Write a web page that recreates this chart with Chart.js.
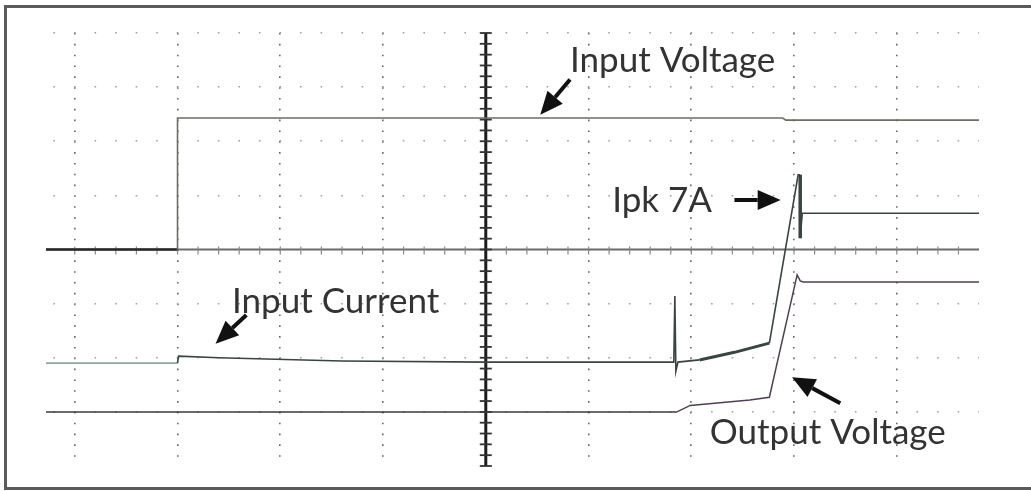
<!DOCTYPE html>
<html>
<head>
<meta charset="utf-8">
<script src="https://cdn.jsdelivr.net/npm/chart.js@4.4.1/dist/chart.umd.min.js"></script>
<style>
  html, body { margin: 0; padding: 0; background: #fff; overflow: hidden; }
  #frame { position: absolute; left: 4px; top: 5px; width: 1060px; height: 479px; border: 3px solid #5b5b5b; }
  #myChart { position: absolute; left: 0; top: 0; }
</style>
</head>
<body>
<div id="frame"></div>
<canvas id="myChart" width="1031" height="491"></canvas>
<script>
// everything is in scope divisions, 0,0 is the centre of the graticule
const xMin = -4.28, xMax = 4.8;
const yMin = -4, yMax = 4;
const xGrid = [-4, -3, -2, -1, 0, 1, 2, 3, 4];
const yGrid = [-3, -2, -1, 0, 1, 2, 3, 4];

const inVoltX = [-4.28, -3.0, -3.0, 2.89, 2.92, 4.8];
const inVoltY = [0, 0, 2.43, 2.43, 2.39, 2.39];

const inCurrX = [-4.28, -3.0, -2.99, -2.6, -1.4, 0, 1.83, 1.84, 1.85, 1.87, 2.08, 2.42, 2.76, 3.04, 3.06, 3.06, 3.08, 4.8];
const inCurrY = [-2.1, -2.1, -1.97, -2.0, -2.06, -2.08, -2.08, -0.86, -2.25, -2.08, -2.04, -1.9, -1.73, 1.38, 1.38, 0.21, 0.67, 0.67];

const outVoltX = [-4.28, 1.86, 1.99, 2.57, 2.76, 3.03, 3.06, 3.09, 4.8];
const outVoltY = [-3.0, -3.0, -2.88, -2.78, -2.73, -0.47, -0.58, -0.6, -0.6];

const noteText = ['Input Voltage', 'Ipk 7A', 'Input Current', 'Output Voltage'];
// where each label sits and where its arrow goes (divisions)
const noteLayout = [
  { at: [0.82, 3.28], tail: [0.82, 3.14], tip: [0.53, 2.49] },
  { at: [1.23, 0.69], tail: [2.42, 0.915], tip: [2.87, 0.915] },
  { at: [-2.47, -1.17], tail: [-2.33, -1.21], tip: [-2.63, -1.74] },
  { at: [2.18, -3.6], tail: [3.45, -2.84], tip: [2.98, -2.36] }
];

function pts(xs, ys) {
  return xs.map((x, i) => ({ x: x, y: ys[i] }));
}

const DOT = 1.6;

// thick centre axes with the small division marks
const centreAxes = {
  id: 'centreAxes',
  beforeDatasetsDraw(chart) {
    const c = chart.ctx, xs = chart.scales.x, ys = chart.scales.y, a = chart.chartArea;
    const x0 = xs.getPixelForValue(0), y0 = ys.getPixelForValue(0);
    c.save();
    // horizontal
    c.strokeStyle = '#6a6a6a';
    c.lineWidth = 2.2;
    c.beginPath(); c.moveTo(a.left, y0); c.lineTo(a.right, y0); c.stroke();
    c.lineWidth = 1.2;
    c.strokeStyle = '#8a8a8a';
    for (let v = -4; v <= xMax; v += 0.2) {
      const px = xs.getPixelForValue(v);
      if (px < a.left) continue;
      c.beginPath(); c.moveTo(px, y0 - 3); c.lineTo(px, y0 + 5); c.stroke();
    }
    // vertical
    c.strokeStyle = '#1c1c1c';
    c.lineWidth = 3;
    c.beginPath(); c.moveTo(x0, a.top); c.lineTo(x0, a.bottom); c.stroke();
    c.lineWidth = 1.8;
    c.strokeStyle = '#333';
    for (let v = yMin; v <= yMax + 0.001; v += 0.2) {
      const py = ys.getPixelForValue(v);
      c.beginPath(); c.moveTo(x0 - 6, py); c.lineTo(x0 + 6, py); c.stroke();
    }
    c.restore();
  }
};

function arrow(c, x1, y1, x2, y2) {
  const ang = Math.atan2(y2 - y1, x2 - x1);
  const hl = 23, hw = 10;
  const bx = x2 - hl * Math.cos(ang), by = y2 - hl * Math.sin(ang);
  c.lineWidth = 4;
  c.beginPath(); c.moveTo(x1, y1); c.lineTo(bx, by); c.stroke();
  c.beginPath();
  c.moveTo(x2, y2);
  c.lineTo(bx + hw * Math.sin(ang), by - hw * Math.cos(ang));
  c.lineTo(bx - hw * Math.sin(ang), by + hw * Math.cos(ang));
  c.closePath();
  c.fill();
}

const notes = {
  id: 'notes',
  afterDatasetsDraw(chart) {
    const c = chart.ctx, xs = chart.scales.x, ys = chart.scales.y;
    c.save();
    c.font = '35px Lato';
    c.textBaseline = 'alphabetic';
    noteText.forEach((t, i) => {
      const L = noteLayout[i];
      c.fillStyle = '#333';
      c.fillText(t, xs.getPixelForValue(L.at[0]), ys.getPixelForValue(L.at[1]));
      c.fillStyle = '#111';
      c.strokeStyle = '#111';
      arrow(c, xs.getPixelForValue(L.tail[0]), ys.getPixelForValue(L.tail[1]),
        xs.getPixelForValue(L.tip[0]), ys.getPixelForValue(L.tip[1]));
    });
    c.restore();
  }
};

function initialize() {
  const ctx = document.getElementById('myChart').getContext('2d');
  const myChart = new Chart(ctx, {
    type: 'line',
    data: {
      datasets: [{
        label: 'Input Voltage',
        data: pts(inVoltX, inVoltY),
        borderColor: '#6d6d62',
        borderWidth: 1.6,
        segment: {
          borderColor: s => s.p0DataIndex === 0 ? '#2a2a2a' : undefined,
          borderWidth: s => s.p0DataIndex === 0 ? 2.6 : undefined
        }
      }, {
        label: 'Input Current',
        data: pts(inCurrX, inCurrY),
        borderColor: '#3a4443',
        borderWidth: 1.6,
        segment: {
          borderColor: s => s.p0DataIndex === 0 ? '#8fa3a1' : undefined,
          borderWidth: s => (s.p0DataIndex >= 10 && s.p0DataIndex <= 11) ? 3 : (s.p0DataIndex === 14 ? 3.5 : undefined)
        }
      }, {
        label: 'Output Voltage',
        data: pts(outVoltX, outVoltY),
        borderColor: '#4e4250',
        borderWidth: 1.5,
        segment: {
          borderColor: s => s.p0DataIndex === 0 ? '#3a3a3a' : undefined
        }
      }]
    },
    options: {
      responsive: false,
      animation: false,
      layout: { padding: { left: 46, right: 52, top: 33, bottom: 25 } },
      elements: { point: { radius: 0 }, line: { tension: 0 } },
      plugins: { legend: { display: false }, tooltip: { enabled: false } },
      scales: {
        x: {
          type: 'linear',
          min: xMin,
          max: xMax,
          afterBuildTicks: s => { s.ticks = xGrid.map(v => ({ value: v })); },
          ticks: { display: false },
          grid: {
            drawTicks: false,
            color: c => c.tick && c.tick.value === 0 ? 'rgba(0,0,0,0)' : '#666',
            lineWidth: DOT
          },
          border: {
            display: false,
            dash: c => {
              const y = c.chart.scales.y;
              const p = Math.abs(y.getPixelForValue(0.2) - y.getPixelForValue(0));
              return [DOT, p - DOT];
            },
            dashOffset: 0
          }
        },
        y: {
          min: yMin,
          max: yMax,
          afterBuildTicks: s => { s.ticks = yGrid.map(v => ({ value: v })); },
          ticks: { display: false },
          grid: {
            drawTicks: false,
            color: c => c.tick && c.tick.value === 0 ? 'rgba(0,0,0,0)' : '#a0a0a0',
            lineWidth: DOT
          },
          border: {
            display: false,
            dash: c => {
              const x = c.chart.scales.x;
              const p = x.getPixelForValue(0.2) - x.getPixelForValue(0);
              return [DOT, p - DOT];
            },
            dashOffset: c => {
              const x = c.chart.scales.x;
              const p = x.getPixelForValue(0.2) - x.getPixelForValue(0);
              const d = (x.getPixelForValue(-4) - x.left) % p;
              return p + DOT / 2 - d;
            }
          }
        }
      }
    },
    plugins: [centreAxes, notes]
  });
  return myChart;
}
initialize();
</script>
</body>
</html>
